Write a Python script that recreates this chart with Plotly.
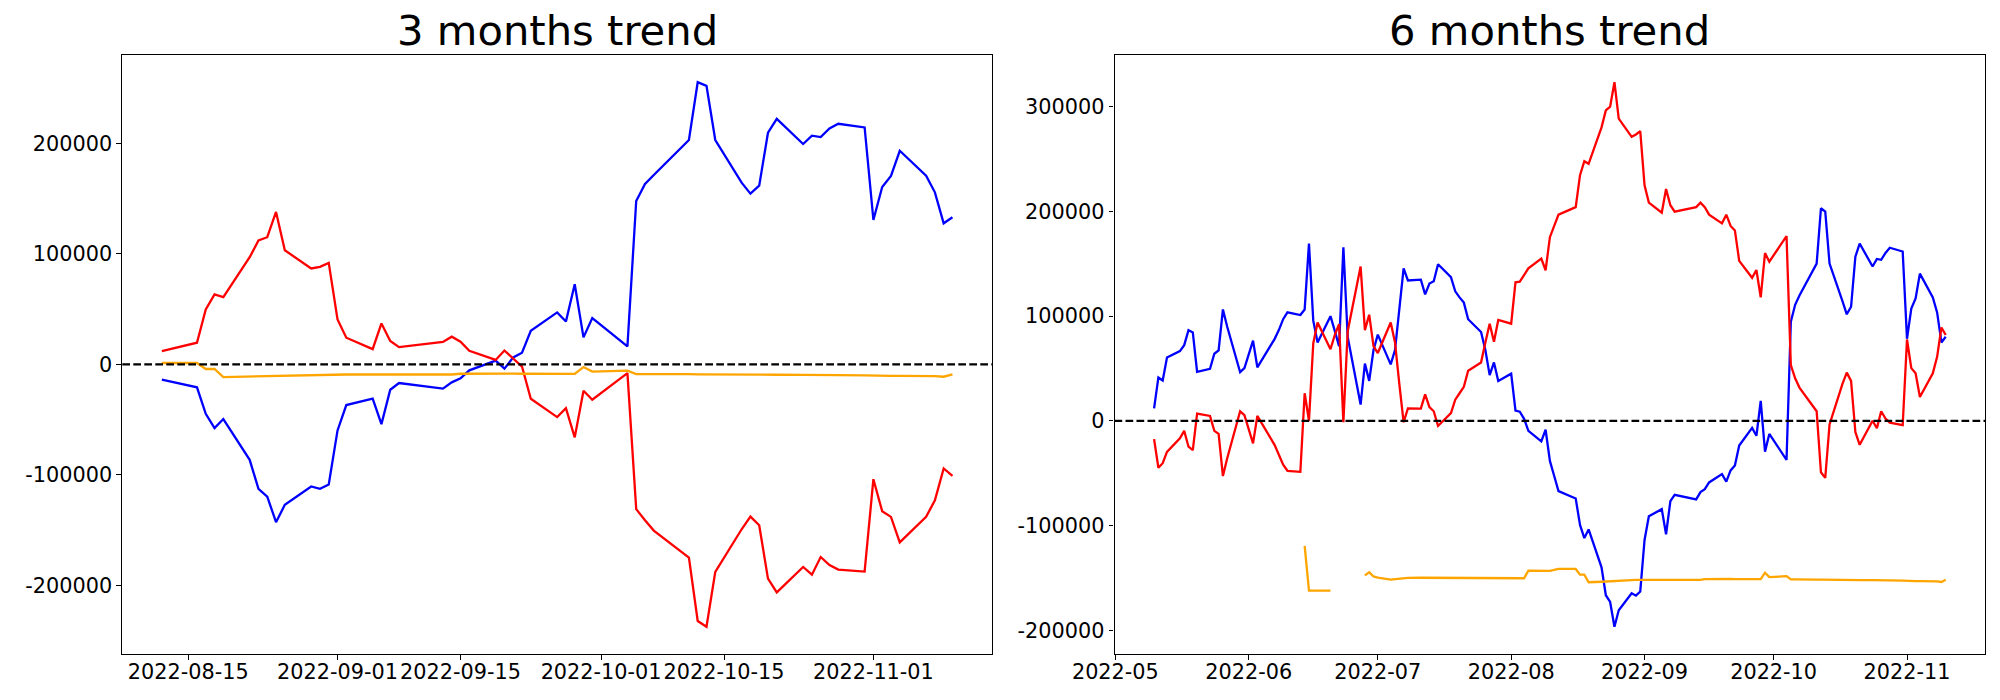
import pandas as pd
import plotly.graph_objects as go

# ---------------- data: 3 months panel ----------------
dates_3m = [
    "2022-08-12", "2022-08-16", "2022-08-17", "2022-08-18", "2022-08-19",
    "2022-08-22", "2022-08-23", "2022-08-24", "2022-08-25", "2022-08-26",
    "2022-08-29", "2022-08-30", "2022-08-31", "2022-09-01", "2022-09-02",
    "2022-09-05", "2022-09-06", "2022-09-07", "2022-09-08", "2022-09-13",
    "2022-09-14", "2022-09-15", "2022-09-16", "2022-09-19", "2022-09-20",
    "2022-09-21", "2022-09-22", "2022-09-23", "2022-09-26", "2022-09-27",
    "2022-09-28", "2022-09-29", "2022-09-30", "2022-10-04", "2022-10-05",
    "2022-10-06", "2022-10-07", "2022-10-11", "2022-10-12", "2022-10-13",
    "2022-10-14", "2022-10-17", "2022-10-18", "2022-10-19", "2022-10-20",
    "2022-10-21", "2022-10-24", "2022-10-25", "2022-10-26", "2022-10-27",
    "2022-10-28", "2022-10-31", "2022-11-01", "2022-11-02", "2022-11-03",
    "2022-11-04", "2022-11-07", "2022-11-08", "2022-11-09", "2022-11-10",
]
red_3m = [
    12000, 19600, 49700, 63200, 60800, 96900, 112000, 115000, 137900, 103200,
    86700, 88200, 91800, 40600, 24100, 13800, 37000, 21100, 15600, 20200,
    25000, 20500, 12200, 4000, 12500, 4800, -2000, -31100, -47700, -39600,
    -66100, -23900, -32000, -7900, -131000, -141000, -150400, -174900, -232200, -237400,
    -187800, -149200, -137700, -145600, -193900, -206300, -183300, -190300, -174300, -181500,
    -185700, -187500, -103900, -132900, -138000, -161000, -138000, -122900, -94200, -100900,
]
blue_3m = [
    -13900, -20800, -44700, -57700, -49500, -86400, -112600, -119600, -142800, -127100,
    -110500, -112600, -108700, -59800, -36800, -31100, -54100, -23000, -16900, -22000,
    -16300, -12700, -5400, 3300, -3900, 6300, 10500, 30300, 47000, 38800,
    72500, 24400, 41800, 16300, 147800, 163100, 171300, 202900, 255200, 251900,
    202900, 164300, 154400, 161600, 209500, 222100, 199300, 206800, 205600, 213400,
    217600, 214300, 130600, 160400, 170400, 193200, 170700, 155600, 127600, 133000,
]
orange_3m = [
    1200, 1200, -4200, -4200, -11500, -11000, -10700, -10400, -10000, -9700,
    -9500, -9300, -9100, -9000, -9200, -9200, -9200, -9300, -9300, -9300,
    -9200, -8500, -8400, -8400, -8400, -8400, -8500, -8500, -8500, -8600,
    -8600, -2400, -6600, -5700, -8800, -8800, -8700, -8900, -9000, -9100,
    -9200, -9400, -9300, -9300, -9300, -9400, -9500, -9700, -9700, -9800,
    -9800, -10000, -10300, -10600, -10500, -10400, -10300, -10600, -11200, -9100,
]

# ---------------- data: 6 months panel ----------------
krx_holidays = ["2022-06-01", "2022-06-06", "2022-08-15", "2022-09-09",
                "2022-09-12", "2022-10-03", "2022-10-10"]
dates_6m = pd.bdate_range("2022-05-10", "2022-11-10", freq="C",
                          holidays=krx_holidays)

red_6m = [
    # May
    -17400, -44700, -40400, -29600, -16700, -9500, -24600, -27800, 7000, 4800,
    -9500, -12400, -52600, -35700, 9200, 5600,
    # Jun
    -21400, 4800, -22800, -32800, -41800, -47600, -48600, 26400, 200, 74100,
    93900, 68400, 82000, 92400, -1300, 85600, 147400, 86700, 101400, 71300,
    # Jul
    64800, 93900, 74900, 35400, -1300, 12000, 11700, 25300, 13100, 9200,
    -4800, 7400, 20300, 26400, 32500, 47900, 55800, 74900, 92800, 75600, 96400,
    # Aug
    92800, 132300, 133000, 139500, 145600, 154900, 143800, 175400, 186100, 196900,
    204100, 234600, 247900, 245400, 280200, 296400, 300000, 323300, 288500, 271200,
    273400, 276600,
    # Sep
    224900, 208400, 198700, 221300, 205900, 199800, 204100, 208400, 204100, 196900,
    188600, 196900, 186100, 181800, 152800, 136600, 144100, 117900, 160300, 152000,
    # Oct
    176400, 53300, 40700, 31800, 9200, -49000, -54400, -3400, 35400, 46100,
    38200, -10600, -22800, 200, -7000, 9200, 2300, -1600, -4100,
    # Nov
    77700, 50400, 45400, 22800, 45400, 61200, 89200, 82000,
]
blue_6m = [
    # May
    12000, 41500, 38600, 60500, 66600, 72300, 86700, 84500, 46800, 49700,
    64100, 67300, 106400, 89900, 46500, 50400,
    # Jun
    76600, 51200, 78100, 86700, 97100, 103600, 101100, 106400, 169300, 95700,
    74900, 100000, 86000, 71300, 165700, 80200, 15600, 54700, 38200, 67700,
    # Jul
    82400, 54000, 67700, 107200, 145600, 134100, 134800, 120800, 131200, 133400,
    149500, 137300, 123700, 117900, 112900, 97100, 84900, 67700, 43700, 55800, 38200,
    # Aug
    45100, 9900, 8800, 2000, -9500, -19600, -8400, -38200, -52600, -67000,
    -74100, -99300, -111800, -103600, -139800, -166400, -172800, -196500, -180700, -164600,
    -166800, -162800,
    # Sep
    -113600, -91000, -84200, -108200, -76600, -70500, -74900, -68000, -65200, -58700,
    -50800, -58000, -47200, -42500, -23500, -6600, -14200, 19200, -29300, -12400,
    # Oct
    -37200, 94600, 110800, 119800, 150200, 203000, 199800, 150200, 114300, 101800,
    109000, 156700, 169300, 147400, 154600, 153800, 160300, 165300, 161700,
    # Nov
    78400, 107200, 116900, 140600, 117900, 103600, 74900, 80300,
]
orange_6m = [
    # May
    None, None, None, None, None, None, None, None, None, None,
    None, None, None, None, None, None,
    # Jun
    None, None, None, None, None, None, None, -119300, -162000, -162000,
    -162000, -162000, None, None, None, None, None, -147500, -144500, -148500,
    # Jul
    -149500, -151500, -151000, -150200, -149800, -149800, -149700, -149700, -149700, -149800,
    -149800, -149700, -149700, -149700, -149700, -149800, -149800, -149800, -149900, -150000, -150000,
    # Aug
    -150000, -150100, -150200, -150200, -143000, -143000, -143600, -143100, -142200, -141300,
    -141300, -146700, -146700, -154000, -153500, -153200, -152900, -152500, -152200, -152000,
    -151800, -151600,
    # Sep
    -151500, -151700, -151700, -151700, -151800, -151800, -151800, -151700, -151000, -150900,
    -150900, -150900, -150900, -151000, -151000, -151000, -151100, -151100, -144900, -149100,
    # Oct
    -148200, -151300, -151300, -151200, -151400, -151500, -151600, -151700, -151900, -151800,
    -151800, -151800, -151900, -152000, -152200, -152200, -152300, -152300, -152500,
    # Nov
    -152800, -153100, -153000, -152900, -152800, -153100, -153700, -151600,
]

titles = ["3 months trend", "6 months trend"]
xticks_3m = ["2022-08-15", "2022-09-01", "2022-09-15", "2022-10-01", "2022-10-15", "2022-11-01"]
xticks_6m = ["2022-05-01", "2022-06-01", "2022-07-01", "2022-08-01", "2022-09-01",
             "2022-10-01", "2022-11-01"]
xticklabels_6m = ["2022-05", "2022-06", "2022-07", "2022-08", "2022-09", "2022-10", "2022-11"]
yticks_3m = [-200000, -100000, 0, 100000, 200000]
yticks_6m = [-200000, -100000, 0, 100000, 200000, 300000]

assert len(red_3m) == len(blue_3m) == len(orange_3m) == len(dates_3m)
assert len(red_6m) == len(blue_6m) == len(orange_6m) == len(dates_6m)

# ---------------- layout helpers ----------------
# the page body keeps its default 8px margin, so the figure is laid out
# 8px smaller on each side and every pixel position is shifted by 8px
OFF = 8
W, H = 2000 - 2 * OFF, 700 - 2 * OFF


def px_x(x):
    return (x - OFF) / W


def px_y(y):
    return 1 - (y - OFF) / H


def date_range(dates, pad=0.05):
    d = pd.to_datetime(pd.Series(list(dates)))
    span = d.max() - d.min()
    return [str(d.min() - span * pad), str(d.max() + span * pad)]


def val_range(*series, pad=0.05):
    vals = [v for s in series for v in s if v is not None]
    lo, hi = min(vals), max(vals)
    span = hi - lo
    return [lo - span * pad, hi + span * pad]


LW = 2.3
colors = {"red": "#ff0000", "blue": "#0000ff", "orange": "#ffa500"}

fig = go.Figure()
panels = [
    (list(dates_3m), red_3m, blue_3m, orange_3m, "x", "y"),
    ([d.strftime("%Y-%m-%d") for d in dates_6m], red_6m, blue_6m, orange_6m, "x2", "y2"),
]
for x, r, b, o, xa, ya in panels:
    for vals, c in ((b, "blue"), (r, "red"), (o, "orange")):
        fig.add_trace(go.Scatter(x=x, y=vals, mode="lines",
                                 line=dict(color=colors[c], width=LW),
                                 connectgaps=False, showlegend=False,
                                 hoverinfo="skip", xaxis=xa, yaxis=ya))

ydom = [px_y(654), px_y(55)]
xdom1 = [px_x(122.3), px_x(992.0)]
xdom2 = [px_x(1114.5), px_x(1985.3)]

tickfont = dict(family="DejaVu Sans", size=20.8, color="black")
common = dict(showline=True, mirror=True, linecolor="black", linewidth=1.1,
              ticks="outside", ticklen=4.9, tickwidth=1.1, tickcolor="black",
              showgrid=False, zeroline=False, tickfont=tickfont, automargin=False)

fig.update_layout(
    width=W, height=H,
    margin=dict(l=0, r=0, t=0, b=0),
    paper_bgcolor="white", plot_bgcolor="white",
    font=dict(family="DejaVu Sans", color="black"),
    xaxis=dict(domain=xdom1, anchor="y", type="date",
               range=date_range(dates_3m), ticklabelstandoff=-6,
               tickvals=xticks_3m, ticktext=xticks_3m, **common),
    yaxis=dict(domain=ydom, anchor="x",
               range=val_range(red_3m, blue_3m, orange_3m),
               tickvals=yticks_3m, ticktext=[str(v) for v in yticks_3m], **common),
    xaxis2=dict(domain=xdom2, anchor="y2", type="date",
                range=date_range(dates_6m), ticklabelstandoff=-6,
                tickvals=xticks_6m, ticktext=xticklabels_6m, **common),
    yaxis2=dict(domain=ydom, anchor="x2",
                range=val_range(red_6m, blue_6m, orange_6m),
                tickvals=yticks_6m, ticktext=[str(v) for v in yticks_6m], **common),
)

for xref, yref in (("x domain", "y"), ("x2 domain", "y2")):
    fig.add_shape(type="line", xref=xref, yref=yref, x0=0, x1=1, y0=0, y1=0,
                  line=dict(color="black", width=2.2, dash="7.7px,3.3px"), layer="above")

for t, dom in zip(titles, (xdom1, xdom2)):
    fig.add_annotation(text=t, xref="paper", yref="paper",
                       x=(dom[0] + dom[1]) / 2, y=px_y(56), borderpad=0,
                       xanchor="center", yanchor="bottom", showarrow=False,
                       font=dict(family="DejaVu Sans", size=41.7, color="black"))

fig.write_html("out.html")
